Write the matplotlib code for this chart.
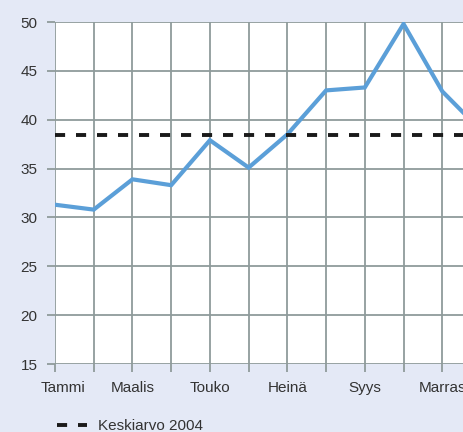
import matplotlib
matplotlib.use("Agg")
import matplotlib.pyplot as plt
from matplotlib.transforms import ScaledTranslation

# kuukaudet ja arvot
months = ["Tammi", "Helmi", "Maalis", "Huhti", "Touko", "Kesä",
          "Heinä", "Elo", "Syys", "Loka", "Marras", "Joulu"]
values = [31.3, 30.8, 33.9, 33.3, 37.9, 35.1, 38.5, 43.0, 43.3, 49.8, 42.9, 38.9]
average = 38.4
yticks = [15, 20, 25, 30, 35, 40, 45, 50]

plt.rcParams['font.family'] = ['Liberation Sans', 'DejaVu Sans']

bg = '#e4e9f6'
gridc = '#8f9b9b'
txtc = '#333333'

fig = plt.figure(figsize=(4.63, 4.32), dpi=100, facecolor=bg)
ax = fig.add_axes([55 / 463, 1 - 364 / 432, (481 - 55) / 463, (364 - 22) / 432])
ax.set_facecolor('white')

x = list(range(len(months)))
ax.plot(x, values, color='#5b9fd8', lw=3.0, solid_joinstyle='miter', zorder=3)
ax.axhline(average, color='#1a1a1a', lw=2.8, dashes=(2.6, 2.8), zorder=4,
           label='Keskiarvo 2004')

ax.set_xlim(0, 11)
ax.set_ylim(15, 50)
ax.set_xticks(x)
ax.set_xticklabels([m if i % 2 == 0 else '' for i, m in enumerate(months)])
ax.set_yticks(yticks)

ax.grid(True, color=gridc, lw=1.3, zorder=1)
for s in ax.spines.values():
    s.set_visible(False)
ax.tick_params(axis='both', length=6, width=1.3, color=gridc,
               labelsize=11, labelcolor=txtc)
ax.tick_params(axis='x', pad=6)
ax.tick_params(axis='y', pad=6.5)

# ensimmäinen kuukausi vähän oikealle
first = ax.get_xticklabels()[0]
first.set_transform(first.get_transform() + ScaledTranslation(8 / 100, 0, fig.dpi_scale_trans))

fig.legend(loc='center left', bbox_to_anchor=(49 / 463, 1 - 426 / 432),
           frameon=False, borderpad=0, handlelength=2.0, handletextpad=0.7,
           fontsize=11, labelcolor=txtc)

fig.savefig('out.png', dpi=100, facecolor=bg)
